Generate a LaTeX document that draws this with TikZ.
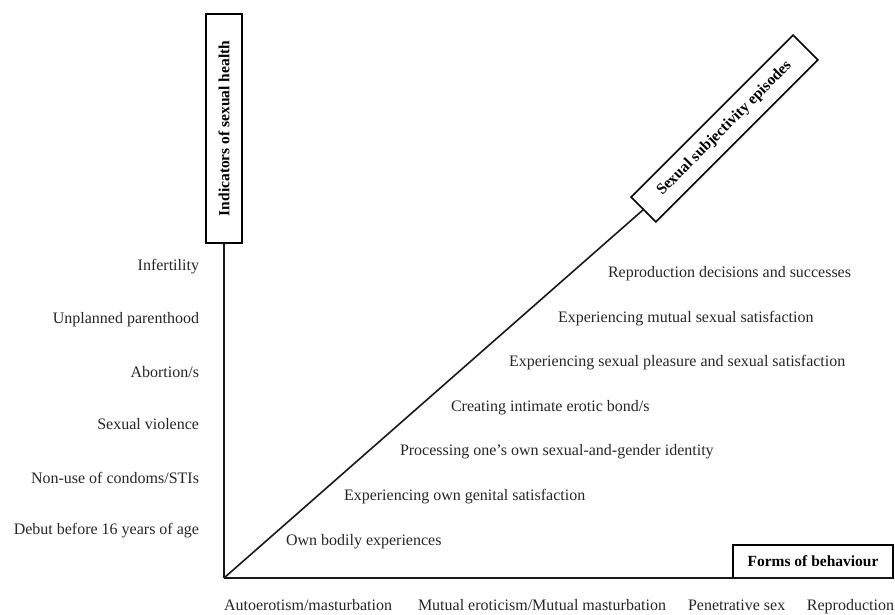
\documentclass[tikz,border=0pt]{standalone}
\usepackage{fontspec}
\setmainfont{Liberation Serif}
\begin{document}
\begin{tikzpicture}[x=1pt,y=-1pt,
  every node/.style={inner sep=0pt, outer sep=0pt},
  axisbox/.style={draw=black, line width=1.6pt, fill=white, font=\fontsize{15.5}{18}\selectfont\bfseries, align=center},
  lab/.style={font=\fontsize{16}{19}\selectfont, text=black!85},
  axisline/.style={line width=1.6pt, draw=black!90}]
\useasboundingbox (0,0) rectangle (895,614);

% boxes
\node[axisbox, minimum width=229pt, minimum height=36pt, rotate=90] (ind) at (224,128.5) {Indicators of sexual health};
\node[axisbox, minimum width=229pt, minimum height=35pt, rotate=45] (sub) at (724.5,128.5) {Sexual subjectivity episodes};
\node[axisbox, minimum width=160pt, minimum height=33pt] (forms) at (813,561.5) {Forms of behaviour};

\coordinate (o) at (224,578);

% axes
\draw[axisline] (o) -- (ind.west);
\draw[axisline] (o) -- (sub.west);
\draw[axisline] (o) -- (forms.south east);

% left labels
\node[lab, anchor=base east] (l1) at (199,270) {Infertility};
\node[lab, anchor=base east] (l2) at (199,323) {Unplanned parenthood};
\node[lab, anchor=base east] (l3) at (199,377) {Abortion/s};
\node[lab, anchor=base east] (l4) at (199,429) {Sexual violence};
\node[lab, anchor=base east] (l5) at (199,483) {Non-use of condoms/STIs};
\node[lab, anchor=base east] (l6) at (199,534) {Debut before 16 years of age};

% diagonal labels
\node[lab, anchor=base west] (d1) at (608,277) {Reproduction decisions and successes};
\node[lab, anchor=base west] (d2) at (558,322) {Experiencing mutual sexual satisfaction};
\node[lab, anchor=base west] (d3) at (509,366) {Experiencing sexual pleasure and sexual satisfaction};
\node[lab, anchor=base west] (d4) at (451,411) {Creating intimate erotic bond/s};
\node[lab, anchor=base west] (d5) at (400,455) {Processing one’s own sexual-and-gender identity};
\node[lab, anchor=base west] (d6) at (344,500) {Experiencing own genital satisfaction};
\node[lab, anchor=base west] (d7) at (286,545) {Own bodily experiences};

% bottom labels
\node[lab, anchor=base west] (b1) at (224,610) {Autoerotism/masturbation};
\node[lab, anchor=base west] (b2) at (418,610) {Mutual eroticism/Mutual masturbation};
\node[lab, anchor=base west] (b3) at (688,610) {Penetrative sex};
\node[lab, anchor=base east] (b4) at (894,610) {Reproduction};
\end{tikzpicture}
\end{document}
